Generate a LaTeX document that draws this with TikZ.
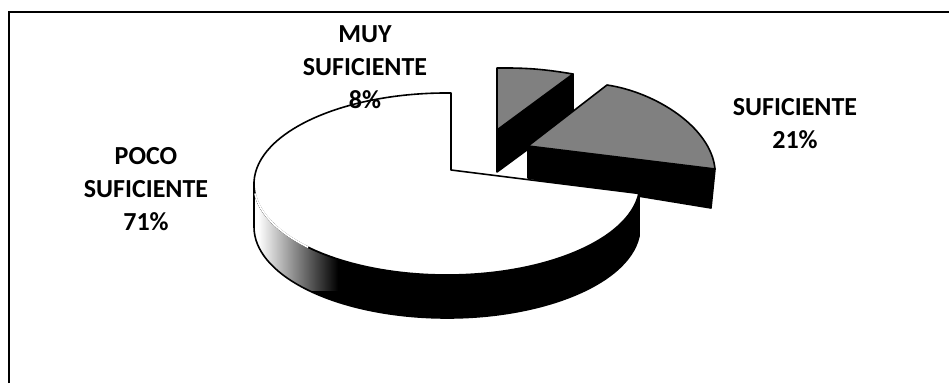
\documentclass[tikz,border=0pt]{standalone}
\usepackage{fontspec}
\setmainfont{Carlito}
\newcommand\pieSide{([shift={(180:193 and 91)}]pc) arc[start angle=180,end angle=6,x radius=193,y radius=91] -- ++(0,43) arc[start angle=6,end angle=180,x radius=193,y radius=91] -- cycle}
\begin{document}
\begin{tikzpicture}[x=1pt,y=-1pt,
  outline/.style={draw=black,line width=1.6pt,line join=round},
  speck/.style={fill=black!50},
  lbl/.style={align=center,anchor=north,inner sep=0pt,font=\fontsize{26}{33}\selectfont\bfseries}]
\useasboundingbox (0,0) rectangle (949,383);
% frame
\coordinate (f1) at (9,383);
\coordinate (f2) at (9,12);
\coordinate (f3) at (949,12);
\draw[line width=1.8pt] (f1) -- (f2) -- (f3);

% MUY SUFICIENTE wedge (exploded)
\coordinate (ma) at (497,130);
\coordinate (mo0) at (497,68);
\coordinate (mo1) at (573,74);
\coordinate (mab) at (497,172);
\coordinate (mo1b) at (573,116);
\filldraw[outline,fill=black] (ma) -- (mo1) -- (mo1b) -- (mab) -- cycle;
\filldraw[outline,speck] (ma) -- (mo0) to[bend left=5] (mo1) -- cycle;

% SUFICIENTE wedge (exploded)
\coordinate (sa) at (528,146);
\coordinate (so0) at (607,85);
\coordinate (so1) at (715,169);
\coordinate (sab) at (528,178);
\coordinate (so1b) at (711,208);
\filldraw[outline,fill=black] (sa) -- (so1) -- (so1b) -- (sab) -- cycle;
\filldraw[outline,speck] (sa) -- (so0) .. controls (655,92) and (711,127) .. (so1) -- cycle;

% POCO SUFICIENTE slice
\coordinate (pa) at (451,170);
\coordinate (pt) at (451,93);
\coordinate (pc) at (447,184);
\fill[black] \pieSide;
\begin{scope}
  \clip \pieSide;
  \shade[left color=white, middle color=black!40, right color=black] (258,170) rectangle (338,290);
  \fill[white] (240,170) rectangle (258,290);
\end{scope}
\draw[outline] \pieSide;
\filldraw[outline,fill=white] (pa) -- (pt) arc[start angle=271.2,end angle=6,x radius=193,y radius=91] -- cycle;
\draw[white,line width=1.8pt] ([shift={(136:193 and 91)}]pc) arc[start angle=136,end angle=174,x radius=193,y radius=91];

% labels
\node[lbl] (lmuy) at (365,25) {MUY\\SUFICIENTE\\8\%};
\node[lbl] (lsuf) at (795,98) {SUFICIENTE\\21\%};
\node[lbl] (lpoco) at (146,147) {POCO\\SUFICIENTE\\71\%};
\end{tikzpicture}
\end{document}
